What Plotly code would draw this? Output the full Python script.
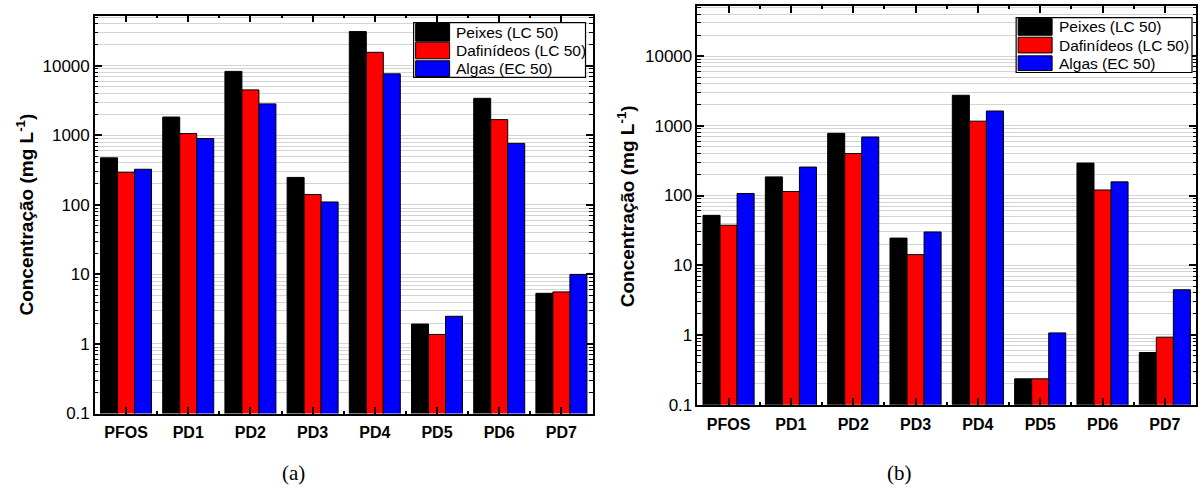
import plotly.graph_objects as go

W, H = 1198, 497

# ---- data -------------------------------------------------------------
categorias = ["PFOS", "PD1", "PD2", "PD3", "PD4", "PD5", "PD6", "PD7"]
series_nomes = ["Peixes (LC 50)", "Dafinídeos (LC 50)", "Algas (EC 50)"]
series_cores = ["#000000", "#ff0000", "#0000ff"]

# panel (a)
a_peixes = [474, 1830, 8300, 248, 31000, 1.93, 3400, 5.35]
a_dafinideos = [294, 1060, 4500, 141, 15600, 1.37, 1680, 5.6]
a_algas = [325, 900, 2830, 110, 7650, 2.5, 765, 10.0]

# panel (b)
b_peixes = [52, 185, 780, 24.5, 2740, 0.235, 292, 0.56]
b_dafinideos = [37.5, 114, 400, 14.2, 1165, 0.235, 120, 0.93]
b_algas = [107, 256, 690, 30, 1630, 1.07, 157, 4.45]

y_tickvals = [0.1, 1, 10, 100, 1000, 10000]
y_ticktext = ["0.1", "1", "10", "100", "1000", "10000"]


def px_x(x):
    return x / W


def px_y(y):
    return 1 - y / H


fig = go.Figure()
x_idx = list(range(len(categorias)))

paineis = [
    ("x", "y", [a_peixes, a_dafinideos, a_algas]),
    ("x2", "y2", [b_peixes, b_dafinideos, b_algas]),
]
for xa, ya, valores in paineis:
    for nome, cor, vals in zip(series_nomes, series_cores, valores):
        fig.add_trace(go.Bar(
            x=x_idx, y=vals, name=nome, xaxis=xa, yaxis=ya,
            marker=dict(color=cor, line=dict(color="#000000", width=1)),
            showlegend=False,
        ))

grid_col = "#d4d4d4"
axis_font = dict(family="Liberation Sans, Arial, sans-serif", size=17, color="#000")
cat_font = dict(family="Liberation Sans, Arial, sans-serif", size=16, color="#000")


def x_axis(domain, anchor):
    return dict(
        domain=domain, anchor=anchor,
        range=[-0.5, len(categorias) - 0.5],
        tickmode="array", tickvals=x_idx, ticktext=[f"<b>{c}</b>" for c in categorias],
        ticks="inside", ticklen=7, tickwidth=1.5, tickcolor="#000",
        minor=dict(tick0=0.5, dtick=1, ticks="inside", ticklen=3, tickwidth=1.5, tickcolor="#000"),
        showline=True, linecolor="#000", linewidth=1.5, mirror="allticks",
        showgrid=False, zeroline=False, tickfont=cat_font, fixedrange=True,
        ticklabelstandoff=4,
    )


def y_axis(domain, anchor):
    return dict(
        domain=domain, anchor=anchor, type="log", range=[-1, 4.72],
        tickmode="array", tickvals=y_tickvals, ticktext=y_ticktext,
        ticks="inside", ticklen=7, tickwidth=1.5, tickcolor="#000",
        minor=dict(dtick="D1", ticks="inside", ticklen=3.5, tickwidth=1, tickcolor="#000",
                   showgrid=True, gridcolor=grid_col, gridwidth=1),
        showgrid=True, gridcolor=grid_col, gridwidth=1,
        showline=True, linecolor="#000", linewidth=1.5, mirror="allticks",
        zeroline=False, tickfont=axis_font, fixedrange=True,
    )


fig.update_layout(
    width=W, height=H,
    margin=dict(l=0, r=0, t=0, b=0),
    paper_bgcolor="#ffffff", plot_bgcolor="#ffffff",
    barmode="group", bargap=0.18, bargroupgap=0,
    xaxis=x_axis([px_x(95), px_x(593)], "y"),
    yaxis=y_axis([px_y(422), px_y(16)], "x"),
    xaxis2=x_axis([px_x(698), px_x(1197)], "y2"),
    yaxis2=y_axis([px_y(413), px_y(6)], "x2"),
)

shapes = []
annotations = []

# y-axis titles and panel letters
titulo_y = "<b>Concentração (mg L<sup>-1</sup>)</b>"
for xc, yc in [(25, 219), (626, 210)]:
    annotations.append(dict(
        text=titulo_y, x=px_x(xc), y=px_y(yc), xref="paper", yref="paper",
        textangle=-90, showarrow=False, xanchor="center", yanchor="middle",
        font=dict(family="Liberation Sans, Arial, sans-serif", size=19, color="#000"),
    ))
for txt, xc in [("(a)", 294), ("(b)", 900)]:
    annotations.append(dict(
        text=txt, x=px_x(xc), y=px_y(483), xref="paper", yref="paper",
        showarrow=False, xanchor="center", yanchor="middle",
        font=dict(family="Liberation Serif, Times New Roman, serif", size=21, color="#000"),
    ))

# legends drawn as boxed swatch lists
legendas = [
    dict(box=(414, 23, 586, 79), sw_x=(416, 450), sw_y=[(24, 42), (43, 60), (62, 78)], tx=454),
    dict(box=(1017, 18, 1193, 74), sw_x=(1019, 1053), sw_y=[(19, 36), (38, 54), (57, 72)], tx=1058),
]
for lg in legendas:
    x0, y0, x1, y1 = lg["box"]
    shapes.append(dict(type="rect", xref="paper", yref="paper",
                       x0=px_x(x0), x1=px_x(x1), y0=px_y(y1), y1=px_y(y0),
                       line=dict(color="#000", width=1.2), fillcolor="#ffffff", layer="above"))
    for nome, cor, (sy0, sy1) in zip(series_nomes, series_cores, lg["sw_y"]):
        shapes.append(dict(type="rect", xref="paper", yref="paper",
                           x0=px_x(lg["sw_x"][0]), x1=px_x(lg["sw_x"][1]),
                           y0=px_y(sy1), y1=px_y(sy0),
                           line=dict(color="#000", width=1), fillcolor=cor, layer="above"))
        annotations.append(dict(
            text=nome, x=px_x(lg["tx"]), y=px_y((sy0 + sy1) / 2), xref="paper", yref="paper",
            showarrow=False, xanchor="left", yanchor="middle",
            font=dict(family="Liberation Sans, Arial, sans-serif", size=15.5, color="#000"),
        ))

fig.update_layout(shapes=shapes, annotations=annotations)
fig.write_html("out.html")
